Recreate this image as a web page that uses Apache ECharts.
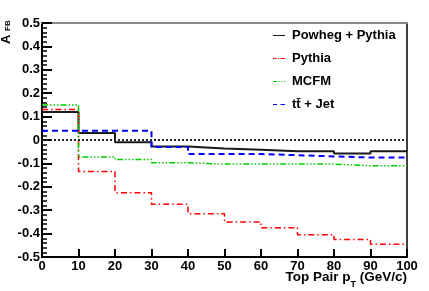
<!DOCTYPE html>
<html>
<head>
<meta charset="utf-8">
<script src="https://cdn.jsdelivr.net/npm/echarts@6/dist/echarts.min.js"></script>
<style>
html,body{margin:0;padding:0;background:#fff;}
#c{width:429px;height:291px;}
</style>
</head>
<body>
<div id="c"></div>
<script>
// Bin edges (GeV/c) and A_FB values per bin
var binEdges = [0, 10, 20, 30, 40, 50, 60, 70, 80, 90, 100];
var powhegPythia = [0.12, 0.03, -0.01, -0.028, -0.036, -0.042, -0.048, -0.048, -0.058, -0.048];
var pythia = [0.13, -0.135, -0.225, -0.275, -0.315, -0.35, -0.375, -0.405, -0.425, -0.445];
var mcfm = [0.15, -0.073, -0.083, -0.097, -0.103, -0.103, -0.103, -0.103, -0.11, -0.11];
var ttJet = [0.04, 0.04, 0.04, -0.03, -0.06, -0.06, -0.065, -0.07, -0.075, -0.075];
var seriesNames = ['Powheg + Pythia', 'Pythia', 'MCFM', 't\u0074\u0304 + Jet'];
var yTicks = [-0.5, -0.4, -0.3, -0.2, -0.1, 0, 0.1, 0.2, 0.3, 0.4, 0.5];
var xTicks = [0, 10, 20, 30, 40, 50, 60, 70, 80, 90, 100];

function histPoints(vals) {
  var pts = [];
  for (var i = 0; i < vals.length; i++) pts.push([binEdges[i], vals[i]]);
  pts.push([binEdges[vals.length], vals[vals.length - 1]]);
  return pts;
}

var FONT = '"Liberation Sans", Arial, Helvetica, sans-serif';
var chart = echarts.init(document.getElementById('c'), null, {renderer: 'canvas'});

var legendIcons = [
  'path://M0,0h12v1h-12z',
  'path://M0,0h3.5v1h-3.5z M5,0h1v1h-1z M7.5,0h4.5v1h-4.5z',
  'path://M0,0h4v1h-4z M5.5,0h1v1h-1z M8,0h1v1h-1z M10.5,0h1v1h-1z',
  'path://M0,0h4v1h-4z M7.5,0h4.5v1h-4.5z'
];

var option = {
  animation: false,
  backgroundColor: '#fff',
  grid: {left: 42, right: 22, top: 23, bottom: 34, containLabel: false},
  legend: {
    orient: 'vertical',
    left: 268,
    top: 23,
    itemWidth: 12,
    itemHeight: 2,
    itemGap: 8,
    textStyle: {fontFamily: FONT, fontWeight: 'bold', fontSize: 13, color: '#000', lineHeight: 15, padding: [0, 0, 0, 2]},
    data: seriesNames.map(function (n, i) { return {name: n, icon: legendIcons[i]}; })
  },
  xAxis: [{
    type: 'value', min: xTicks[0], max: xTicks[xTicks.length - 1], interval: 10,
    axisLine: {show: true, onZero: false, lineStyle: {color: '#000', width: 2}},
    axisTick: {show: true, inside: true, length: 8, lineStyle: {color: '#000', width: 2}},
    axisLabel: {margin: 3, fontFamily: FONT, fontWeight: 'bold', fontSize: 13, color: '#000'},
    splitLine: {show: false}
  }, {
    type: 'value', position: 'top', min: 0, max: 100,
    axisLine: {show: true, onZero: false, lineStyle: {color: '#888', width: 2}},
    axisTick: {show: false}, axisLabel: {show: false}, splitLine: {show: false}
  }],
  yAxis: [{
    type: 'value', min: yTicks[0], max: yTicks[yTicks.length - 1], interval: 0.1,
    axisLine: {show: true, onZero: false, lineStyle: {color: '#000', width: 2}},
    axisTick: {show: true, inside: true, length: 10, lineStyle: {color: '#000', width: 2}},
    minorTick: {show: true, splitNumber: 5, length: 5, lineStyle: {color: '#000', width: 1.5}},
    axisLabel: {margin: 2, fontFamily: FONT, fontWeight: 'bold', fontSize: 13, color: '#000',
      formatter: function (v) { return String(Math.round(v * 10) / 10); }},
    splitLine: {show: false}
  }, {
    type: 'value', position: 'right', min: -0.5, max: 0.5,
    axisLine: {show: true, onZero: false, lineStyle: {color: '#000', width: 1.5}},
    axisTick: {show: false}, axisLabel: {show: false}, splitLine: {show: false}
  }],
  graphic: [
    {type: 'text', x: 12.5, y: 44, rotation: Math.PI / 2,
      style: {text: 'A', font: 'bold 13px ' + FONT, fill: '#000', textAlign: 'left', textVerticalAlign: 'bottom'}},
    {type: 'text', x: 12, y: 31, rotation: Math.PI / 2,
      style: {text: 'FB', font: 'bold 8px ' + FONT, fill: '#000', textAlign: 'left', textVerticalAlign: 'bottom'}},
    {type: 'text', x: 407, y: 272,
      style: {
        text: '{n|Top Pair p}{s|T}{n| (GeV/c)}',
        align: 'right', verticalAlign: 'top',
        rich: {
          n: {font: 'bold 13.5px ' + FONT, fontSize: 13.5, fontWeight: 'bold', fontFamily: FONT, lineHeight: 15, padding: [0, 0, 5, 0], fill: '#000'},
          s: {font: 'bold 9px ' + FONT, fontSize: 9, fontWeight: 'bold', fontFamily: FONT, lineHeight: 9, padding: [11, 0, 0, 0], fill: '#000'}
        }
      }}
  ],
  series: [
    {name: seriesNames[0], type: 'line', step: 'end', symbol: 'none', xAxisIndex: 0, yAxisIndex: 0,
      data: histPoints(powhegPythia), color: '#1a1a1a',
      lineStyle: {color: '#1a1a1a', width: 2, type: 'solid'},
      markLine: {silent: true, symbol: 'none', label: {show: false},
        lineStyle: {color: '#222', width: 1.8, type: [2, 2]}, data: [{yAxis: 0}]}},
    {name: seriesNames[1], type: 'line', step: 'end', symbol: 'none',
      data: histPoints(pythia), color: '#ff0000',
      lineStyle: {color: '#ff0000', width: 1.5, type: [6, 3, 1.5, 3]}},
    {name: seriesNames[2], type: 'line', step: 'end', symbol: 'none',
      data: histPoints(mcfm), color: '#00cc00',
      lineStyle: {color: '#00cc00', width: 1.5, type: [6, 2, 1.5, 2, 1.5, 2, 1.5, 2]}},
    {name: seriesNames[3], type: 'line', step: 'end', symbol: 'none',
      data: histPoints(ttJet), color: '#0000ff',
      lineStyle: {color: '#0000ff', width: 2, type: [6, 4]}}
  ]
};
chart.setOption(option);
</script>
</body>
</html>
